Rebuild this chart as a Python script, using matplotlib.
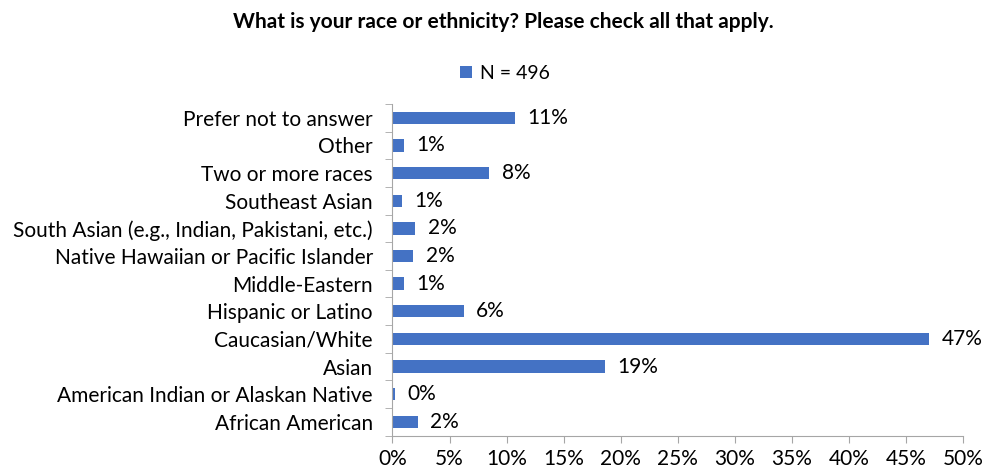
import numpy as np
import matplotlib.pyplot as plt
from matplotlib.ticker import FuncFormatter

plt.rcParams['font.family'] = ['Lato', 'DejaVu Sans']

categories = ['African American', 'American Indian or Alaskan Native', 'Asian',
              'Caucasian/White', 'Hispanic or Latino', 'Middle-Eastern',
              'Native Hawaiian or Pacific Islander',
              'South Asian (e.g., Indian, Pakistani, etc.)', 'Southeast Asian',
              'Two or more races', 'Other', 'Prefer not to answer']
values = [2.2, 0.2, 18.6, 47.0, 6.25, 1.0, 1.8, 2.0, 0.85, 8.5, 1.0, 10.7]
labels = ['2%', '0%', '19%', '47%', '6%', '1%', '2%', '2%', '1%', '8%', '1%', '11%']
xticks = np.arange(0, 51, 5)

fig = plt.figure(figsize=(9.86, 4.75), dpi=100)
ax = fig.add_axes([0.398, 0.083, 0.579, 0.698])

y = np.arange(len(categories))
bars = ax.barh(y, values, height=0.45, color='#4472C4', label='N = 496')
for b, lab in zip(bars, labels):
    ax.text(b.get_width() + 1.1, b.get_y() + b.get_height() / 2, lab,
            va='center', ha='left', fontsize=15)

ax.set_xlim(0, 50)
ax.set_ylim(-0.5, len(categories) - 0.5)
ax.set_xticks(xticks)
ax.xaxis.set_major_formatter(FuncFormatter(lambda v, p: '%d%%' % v))
ax.set_yticks(y)
ax.set_yticklabels(categories, fontsize=15)
ax.set_yticks(np.arange(-0.5, len(categories), 1), minor=True)
ax.tick_params(axis='y', which='major', length=0, pad=14)
ax.tick_params(axis='y', which='minor', length=5, color='#A6A6A6')
ax.tick_params(axis='x', length=5, color='#A6A6A6', labelsize=15, pad=5)
for s in ['top', 'right']:
    ax.spines[s].set_visible(False)
for s in ['left', 'bottom']:
    ax.spines[s].set_color('#A6A6A6')

fig.text(0.51, 0.953, 'What is your race or ethnicity? Please check all that apply.',
         ha='center', va='center', fontsize=15, fontweight='bold')
fig.legend(loc='center', bbox_to_anchor=(0.512, 0.846), frameon=False,
           fontsize=14, handlelength=0.6, handleheight=0.6, handletextpad=0.4)

fig.savefig('out.png')
